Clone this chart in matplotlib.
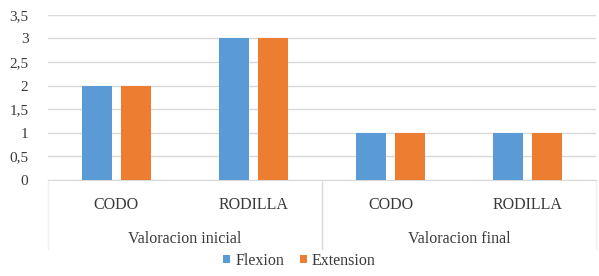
import numpy as np
import matplotlib.pyplot as plt

plt.rcParams['font.family'] = ['Liberation Serif', 'DejaVu Serif']

# Data
categories = ['CODO', 'RODILLA', 'CODO', 'RODILLA']
groups = ['Valoracion inicial', 'Valoracion final']
flexion = [2, 3, 1, 1]
extension = [2, 3, 1, 1]
yticks = [0, 0.5, 1, 1.5, 2, 2.5, 3, 3.5]

blue = '#5B9BD5'
orange = '#ED7D31'
grid_c = '#D9D9D9'
text_c = '#3A3A3A'

fig = plt.figure(figsize=(5.99, 2.76), dpi=100)
ax = fig.add_axes([0.080, 0.348, 0.915, 0.598])

x = np.arange(len(categories))
w = 0.22
ax.bar(x - 0.14, flexion, w, color=blue, label='Flexion', zorder=3)
ax.bar(x + 0.14, extension, w, color=orange, label='Extension', zorder=3)

ax.set_xlim(-0.5, len(categories) - 0.5)
ax.set_ylim(0, 3.5)
ax.set_yticks(yticks)
ax.set_yticklabels([('%g' % v).replace('.', ',') for v in yticks],
                   fontsize=11, color=text_c)
ax.yaxis.grid(True, color=grid_c, linewidth=1, zorder=0)
ax.tick_params(axis='y', length=0, pad=14)
ax.tick_params(axis='x', length=0, pad=12)
ax.set_xticks(x)
ax.set_xticklabels(categories, fontsize=11.5, color=text_c)
for s in ['top', 'right', 'left']:
    ax.spines[s].set_visible(False)
ax.spines['bottom'].set_color(grid_c)

# group labels and separators
tr = ax.get_xaxis_transform()
for i, g in enumerate(groups):
    ax.text(2 * i + 0.5, -0.355, g, transform=tr, ha='center', va='center',
            fontsize=11.5, color=text_c)
ax.plot([1.5, 1.5], [0, -0.42], transform=tr, color=grid_c,
        linewidth=1, clip_on=False)
for xs in [-0.5, 3.5]:
    ax.plot([xs, xs], [0, -0.42], transform=tr, color='#F0F0F0',
            linewidth=1, clip_on=False)

fig.legend(loc='lower center', bbox_to_anchor=(0.5, -0.025), ncol=2,
           frameon=False, fontsize=11.5, handlelength=0.45, handleheight=0.45,
           handletextpad=0.3, columnspacing=1.0, labelcolor=text_c)

fig.savefig('out.png', dpi=100)
